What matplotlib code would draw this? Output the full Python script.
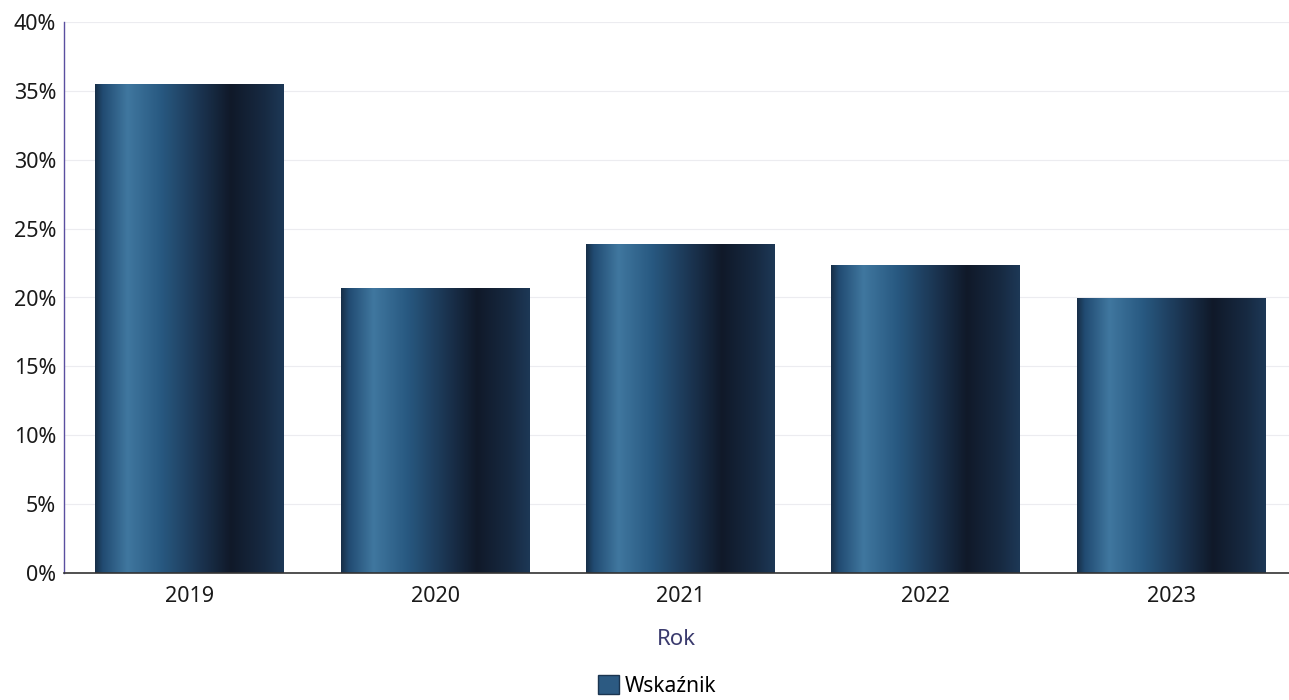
import numpy as np
import matplotlib.pyplot as plt
from matplotlib.colors import LinearSegmentedColormap
from matplotlib.patches import Patch

years = ["2019", "2020", "2021", "2022", "2023"]
values = [35.4, 20.6, 23.8, 22.3, 19.9]
yticks = [0, 5, 10, 15, 20, 25, 30, 35, 40]

plt.rcParams['font.family'] = ['Noto Sans', 'DejaVu Sans']

# cylinder-like shading across each bar
cyl = LinearSegmentedColormap.from_list("cyl", [
    (0.00, "#172f48"),
    (0.04, "#214b72"),
    (0.17, "#40779f"),
    (0.35, "#285981"),
    (0.55, "#1b3552"),
    (0.72, "#101929"),
    (0.90, "#172a42"),
    (1.00, "#1d3856"),
])
grad = np.linspace(0, 1, 256).reshape(1, -1)

fig = plt.figure(figsize=(12.89, 7.0), dpi=100)
ax = fig.add_axes([0.050, 0.181, 0.950, 0.788])

x = np.arange(len(years))
bars = ax.bar(x, values, width=0.77, color="none", zorder=2)
for b in bars:
    x0, y0 = b.get_x(), b.get_y()
    ax.imshow(grad, cmap=cyl, aspect="auto", zorder=2,
              extent=(x0, x0 + b.get_width(), y0, y0 + b.get_height()))

ax.set_xlim(-0.51, 4.48)
ax.set_ylim(0, 40)
ax.set_xticks(x)
ax.set_xticklabels(years, fontsize=15.5, color="#1a1a1a")
ax.set_yticks(yticks)
ax.set_yticklabels([f"{t}%" for t in yticks], fontsize=15.5, color="#1a1a1a")
ax.tick_params(length=0)
ax.tick_params(axis="x", pad=9)
ax.tick_params(axis="y", pad=6)

ax.grid(axis="y", color="#ececf0", linewidth=0.8, zorder=0)
ax.set_axisbelow(True)
for s in ["top", "right"]:
    ax.spines[s].set_visible(False)
ax.spines["left"].set_color("#5a4fa0")
ax.spines["left"].set_linewidth(1.0)
ax.spines["bottom"].set_color("#333333")
ax.spines["bottom"].set_linewidth(1.2)

ax.set_xlabel("Rok", fontsize=16, color="#3b3b6e", labelpad=16)

fig.legend(handles=[Patch(facecolor="#2c5a82", edgecolor="#1b3550")],
           labels=["Wskaźnik"], loc="lower center", bbox_to_anchor=(0.51, -0.022),
           frameon=False, fontsize=15, handlelength=1.0, handleheight=1.0,
           handletextpad=0.3)

fig.savefig("out.png", dpi=100)
